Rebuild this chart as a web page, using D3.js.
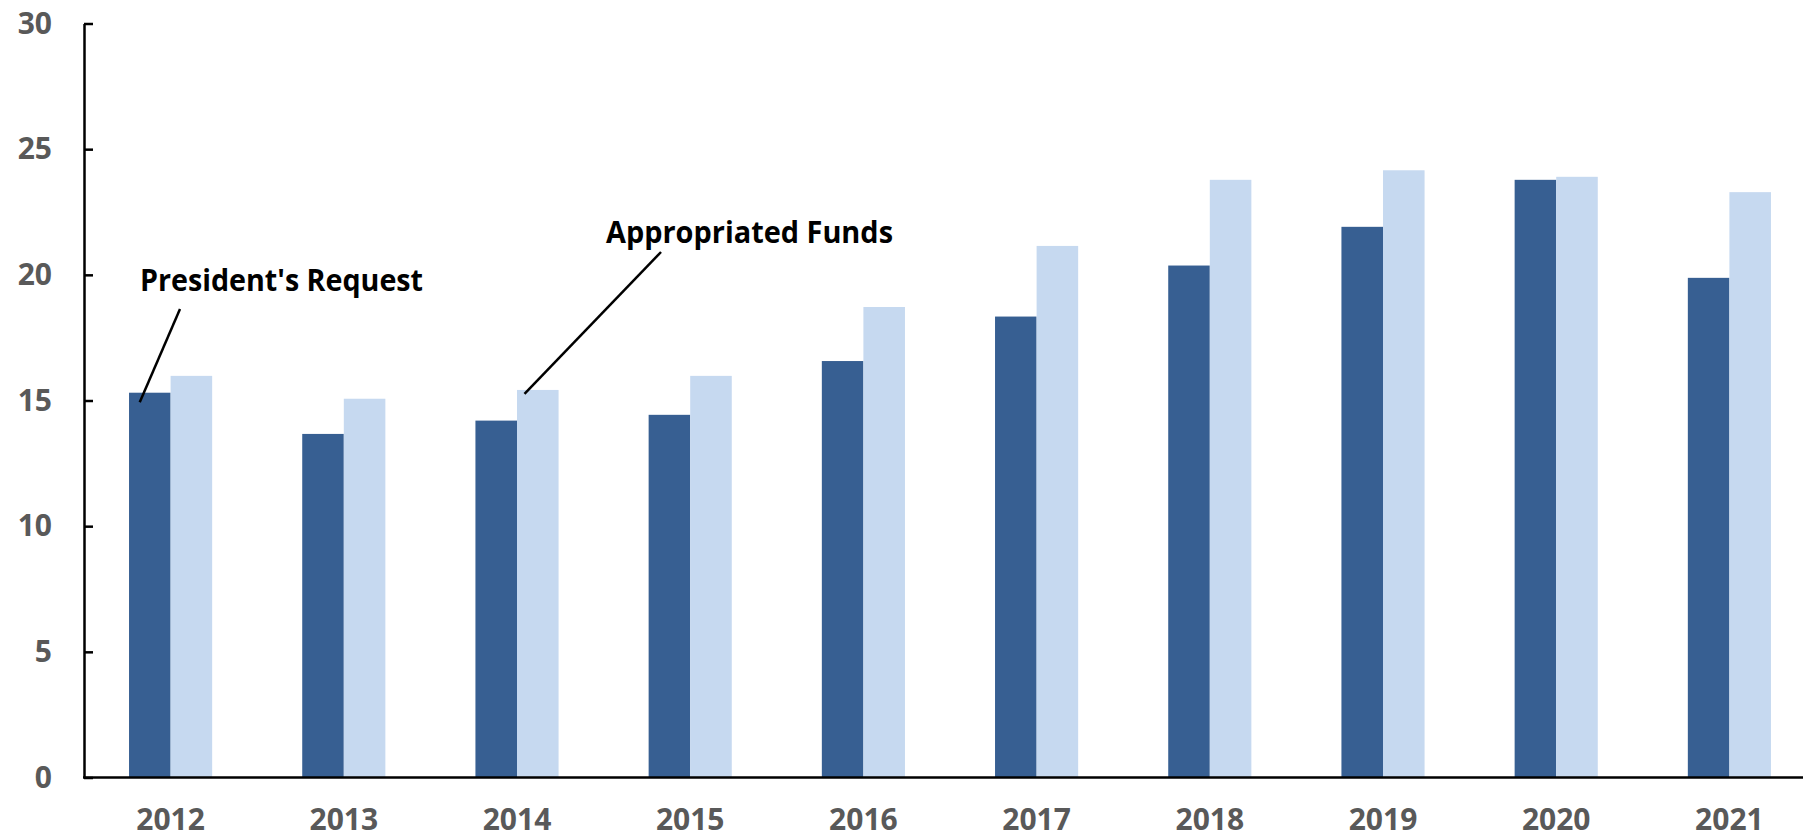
<!DOCTYPE html>
<html>
<head>
<meta charset="utf-8">
<script src="https://cdn.jsdelivr.net/npm/d3@7"></script>
<style>
  body { margin: 0; background: #fff; }
  svg text { font-family: "Open Sans", sans-serif; font-weight: bold; }
</style>
</head>
<body>
<svg id="chart" width="1803" height="839"></svg>
<script>
(function () {
    const years = ["2012", "2013", "2014", "2015", "2016", "2017", "2018", "2019", "2020", "2021"]
    const request = [15.31, 13.67, 14.2, 14.43, 16.57, 18.34, 20.37, 21.91, 23.78, 19.88]
    const appropriated = [15.98, 15.07, 15.42, 15.98, 18.72, 21.15, 23.78, 24.16, 23.9, 23.29]
    const yTicks = [0, 5, 10, 15, 20, 25, 30]
    const seriesKeys = ["request", "appropriated"]

    const width = 1803
    const left = 84, top = 23.5, bottom = 777.5
    const step = 173.2

    const rows = years.map((y, i) => ({ year: y, request: request[i], appropriated: appropriated[i] }))

    const svg = d3.select("#chart")

    // year bands, then the two bars inside each band
    const x0 = d3.scaleBand()
        .domain(years)
        .range([left, left + step * years.length])
        .paddingInner(0.52)
        .paddingOuter(0.26)

    const x1 = d3.scaleBand()
        .domain(seriesKeys)
        .range([0, x0.bandwidth()])

    const y = d3.scaleLinear()
        .domain([0, 30])
        .range([bottom, top])

    const color = d3.scaleOrdinal()
        .domain(seriesKeys)
        .range(["#375f92", "#c6d9f0"])

    svg.append("g")
        .selectAll("g")
        .data(rows)
        .join("g")
        .attr("transform", d => `translate(${x0(d.year)},0)`)
        .selectAll("rect")
        .data(d => seriesKeys.map(k => ({ key: k, value: d[k] })))
        .join("rect")
        .attr("x", d => x1(d.key))
        .attr("width", x1.bandwidth())
        .attr("y", d => y(d.value))
        .attr("height", d => y(0) - y(d.value))
        .attr("fill", d => color(d.key))

    // y axis with ticks pointing into the plot
    const yAxis = svg.append("g")
        .attr("transform", `translate(${left},0)`)
        .call(d3.axisLeft(y).tickValues(yTicks).tickSizeInner(-9).tickSizeOuter(0).tickPadding(32))
    yAxis.select(".domain").attr("stroke", "#000").attr("stroke-width", 2.5)
    yAxis.selectAll(".tick line").attr("stroke", "#000").attr("stroke-width", 2.5)
    yAxis.selectAll("text").attr("font-size", 30).attr("fill", "#595959")

    // x axis: baseline across the whole width, no tick marks
    const xAxis = svg.append("g")
        .attr("transform", `translate(0,${bottom})`)
        .call(d3.axisBottom(x0).tickSize(0).tickPadding(31))
    xAxis.select(".domain").remove()
    xAxis.selectAll("text").attr("font-size", 30).attr("fill", "#595959")
    svg.append("line")
        .attr("x1", left - 1).attr("x2", width)
        .attr("y1", bottom).attr("y2", bottom)
        .attr("stroke", "#000").attr("stroke-width", 2.5)

    // callouts
    const notes = [
        { label: "President's Request", year: "2012", key: "request", value: request[0],
          dx: 10.7, dy: 9.6, lx: 180, ly: 309, tx: 140, ty: 291, tw: 283 },
        { label: "Appropriated Funds", year: "2014", key: "appropriated", value: appropriated[2],
          dx: 7.5, dy: 4, lx: 661, ly: 252, tx: 606, ty: 243, tw: 287 }
    ]
    notes.forEach(n => {
        svg.append("line")
            .attr("x1", n.lx).attr("y1", n.ly)
            .attr("x2", x0(n.year) + x1(n.key) + n.dx)
            .attr("y2", y(n.value) + n.dy)
            .attr("stroke", "#000").attr("stroke-width", 2.5)
        svg.append("text")
            .attr("x", n.tx).attr("y", n.ty)
            .attr("font-size", 31)
            .attr("fill", "#000")
            .attr("textLength", n.tw)
            .attr("lengthAdjust", "spacingAndGlyphs")
            .text(n.label)
    })
})();
</script>
</body>
</html>
